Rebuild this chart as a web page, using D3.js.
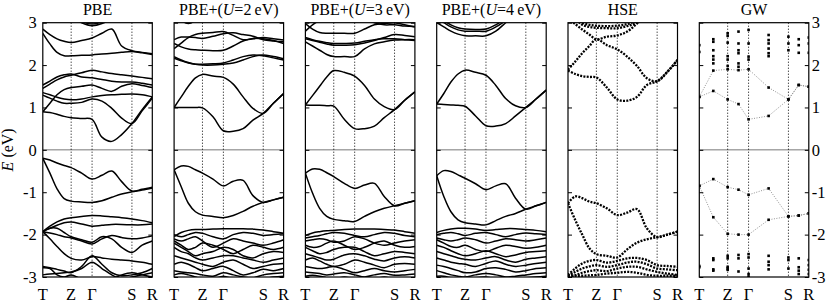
<!DOCTYPE html>
<html>
<head>
<meta charset="utf-8">
<script src="https://cdn.jsdelivr.net/npm/d3@7"></script>
<style>
body{margin:0;background:#fff}
svg{display:block;font-family:"Liberation Serif","Times New Roman",serif}
</style>
</head>
<body>
<script>
// high-symmetry path
const kLabels=["T","Z","Γ","S","R"];
const kPos=[0,0.259,0.45,0.814,1];
const kGrid=[0,0.065,0.13,0.195,0.259,0.355,0.45,0.54,0.63,0.72,0.814,0.907,1];
const kGW=[0,0.128,0.259,0.358,0.45,0.633,0.814,0.908,1];
const titles=["PBE","PBE+(U=2\u2009eV)","PBE+(U=3\u2009eV)","PBE+(U=4\u2009eV)","HSE","GW"];
const yTicks=[-3,-2,-1,0,1,2,3];

// PBE bands (eV)
const pbeBands=[
  [0.9,0.88,0.84,0.79,0.76,0.74,0.72,0.3,0.2,0.36,0.62,0.95,1.25],
  [1.29,1.22,1.15,1.1,1.1,1.12,1.2,1.15,0.98,0.75,0.62,0.92,1.22],
  [1.35,1.3,1.24,1.2,1.18,1.2,1.25,1.28,1.3,1.31,1.32,1.3,1.25],
  [0.9,1.1,1.3,1.42,1.47,1.5,1.53,1.45,1.38,1.5,1.56,1.52,1.47],
  [1.53,1.62,1.72,1.77,1.79,1.72,1.7,1.66,1.62,1.6,1.6,1.57,1.53],
  [1.45,1.55,1.65,1.72,1.76,1.82,1.88,1.84,1.8,1.77,1.74,1.71,1.68],
  [2.75,2.5,2.3,2.22,2.22,2.23,2.24,2.26,2.28,2.3,2.32,2.29,2.25],
  [2.85,2.72,2.62,2.56,2.53,2.58,2.64,2.75,2.85,2.45,2.34,2.3,2.27],
  [3.6,3.5,3.4,3.3,3.15,3.0,2.93,2.98,3.1,3.3,3.4,3.5,3.5],
  [3.7,3.6,3.5,3.4,3.2,3.03,2.97,3.02,3.15,3.35,3.45,3.5,3.5],
  [-0.2,-0.24,-0.31,-0.37,-0.42,-0.55,-0.69,-0.6,-0.5,-0.75,-0.97,-0.93,-0.88],
  [-0.2,-0.55,-0.92,-1.15,-1.21,-1.23,-1.24,-1.2,-1.12,-1.04,-0.99,-0.95,-0.9],
  [-1.93,-1.8,-1.7,-1.63,-1.6,-1.57,-1.55,-1.56,-1.58,-1.6,-1.63,-1.67,-1.72],
  [-1.93,-1.85,-1.78,-1.72,-1.7,-1.75,-1.8,-1.78,-1.76,-1.76,-1.77,-1.77,-1.75],
  [-1.93,-1.96,-2.0,-2.05,-2.08,-2.15,-2.22,-2.1,-2.02,-2.07,-2.1,-2.08,-2.03],
  [-1.93,-1.85,-1.85,-1.95,-2.05,-2.12,-2.18,-2.05,-2.1,-2.3,-2.42,-2.25,-2.15],
  [-1.93,-2.1,-2.28,-2.45,-2.56,-2.6,-2.52,-2.55,-2.58,-2.6,-2.62,-2.65,-2.7],
  [-2.75,-2.78,-2.82,-2.86,-2.9,-2.75,-2.5,-2.7,-2.9,-2.97,-2.95,-2.9,-2.8],
  [-2.95,-2.93,-2.92,-2.9,-2.88,-2.8,-2.65,-2.8,-2.95,-3.05,-3.0,-2.95,-2.9],
  [-2.78,-2.8,-2.95,-3.0,-2.95,-3.05,-3.1,-3.1,-3.05,-2.95,-2.9,-2.95,-3.0]
];

// PBE+U, U=2 eV
const u2Bands=[
  [1.0,1.0,1.0,1.0,0.99,0.78,0.45,0.44,0.5,0.7,0.86,1.1,1.33],
  [1.0,1.25,1.5,1.7,1.78,1.74,1.71,1.55,1.25,0.98,0.86,1.1,1.33],
  [2.16,2.1,2.05,2.02,2.02,2.03,2.05,2.12,2.2,2.24,2.22,2.17,2.12],
  [2.2,2.12,2.06,2.02,2.0,2.0,2.02,2.05,2.12,2.2,2.24,2.2,2.15],
  [2.51,2.43,2.38,2.36,2.35,2.34,2.35,2.45,2.57,2.63,2.62,2.58,2.51],
  [2.39,2.52,2.65,2.72,2.75,2.77,2.79,2.7,2.6,2.62,2.65,2.62,2.59],
  [2.6,2.66,2.66,2.65,2.63,2.68,2.74,2.76,2.72,2.68,2.6,2.57,2.55],
  [3.2,3.05,2.98,3.05,3.2,3.3,3.4,3.4,3.4,3.4,3.4,3.4,3.4],
  [-0.47,-0.38,-0.39,-0.47,-0.55,-0.69,-0.85,-0.74,-0.72,-1.08,-1.24,-1.18,-1.12],
  [-0.47,-0.87,-1.26,-1.46,-1.54,-1.57,-1.6,-1.55,-1.45,-1.33,-1.24,-1.18,-1.12],
  [-2.05,-1.95,-1.9,-1.88,-1.88,-1.87,-1.86,-1.86,-1.86,-1.87,-1.89,-1.93,-1.97],
  [-2.0,-2.05,-2.0,-1.95,-1.97,-2.05,-2.1,-2.0,-1.95,-1.97,-2.02,-2.0,-1.98],
  [-2.1,-2.15,-2.1,-2.05,-2.15,-2.3,-2.2,-2.1,-2.15,-2.2,-2.25,-2.2,-2.12],
  [-2.15,-2.25,-2.35,-2.3,-2.2,-2.25,-2.35,-2.45,-2.35,-2.25,-2.3,-2.35,-2.3],
  [-2.2,-2.3,-2.4,-2.5,-2.45,-2.4,-2.3,-2.35,-2.5,-2.55,-2.45,-2.4,-2.42],
  [-2.3,-2.4,-2.45,-2.55,-2.6,-2.55,-2.5,-2.5,-2.55,-2.6,-2.65,-2.6,-2.55],
  [-2.5,-2.55,-2.6,-2.65,-2.7,-2.75,-2.65,-2.6,-2.7,-2.8,-2.75,-2.7,-2.68],
  [-2.7,-2.65,-2.7,-2.78,-2.85,-2.8,-2.75,-2.85,-2.95,-2.9,-2.82,-2.85,-2.8],
  [-2.85,-2.88,-2.9,-2.92,-2.95,-2.98,-2.9,-2.95,-3.0,-3.02,-2.95,-2.92,-2.9],
  [-2.95,-2.92,-2.95,-3.0,-3.05,-3.05,-2.98,-3.05,-3.1,-3.1,-3.05,-3.0,-2.98]
];

// PBE+U, U=3 eV
const u3Bands=[
  [1.06,1.05,1.05,1.04,1.03,0.72,0.5,0.5,0.56,0.76,0.95,1.17,1.37],
  [1.06,1.28,1.5,1.72,1.87,1.83,1.74,1.52,1.2,1.02,0.95,1.17,1.37],
  [2.55,2.45,2.35,2.25,2.2,2.2,2.2,2.38,2.5,2.55,2.59,2.6,2.6],
  [2.62,2.58,2.54,2.5,2.47,2.47,2.48,2.52,2.58,2.65,2.72,2.7,2.67],
  [2.65,2.6,2.56,2.53,2.51,2.51,2.52,2.56,2.6,2.62,2.62,2.6,2.58],
  [2.98,2.85,2.77,2.75,2.75,2.75,2.75,2.85,2.95,2.98,3.0,2.95,2.9],
  [2.8,2.95,3.05,3.1,3.1,3.15,3.2,3.1,3.0,2.95,2.95,2.92,2.91],
  [-0.55,-0.45,-0.46,-0.54,-0.63,-0.79,-0.91,-0.83,-0.79,-1.1,-1.32,-1.26,-1.2],
  [-0.55,-1.02,-1.38,-1.57,-1.64,-1.67,-1.69,-1.57,-1.46,-1.38,-1.32,-1.26,-1.2],
  [-2.02,-1.96,-1.93,-1.91,-1.9,-1.88,-1.87,-1.87,-1.87,-1.88,-1.89,-1.93,-1.97],
  [-2.08,-2.05,-2.02,-1.98,-1.95,-1.97,-2.02,-2.05,-2.0,-1.95,-1.97,-2.02,-2.05],
  [-2.15,-2.12,-2.1,-2.12,-2.18,-2.15,-2.05,-2.1,-2.2,-2.25,-2.2,-2.15,-2.12],
  [-2.25,-2.3,-2.28,-2.2,-2.15,-2.25,-2.35,-2.3,-2.2,-2.15,-2.25,-2.3,-2.28],
  [-2.3,-2.38,-2.45,-2.42,-2.35,-2.3,-2.3,-2.4,-2.5,-2.45,-2.4,-2.42,-2.45],
  [-2.45,-2.5,-2.55,-2.6,-2.58,-2.48,-2.45,-2.5,-2.58,-2.62,-2.55,-2.52,-2.55],
  [-2.6,-2.55,-2.62,-2.7,-2.75,-2.7,-2.6,-2.65,-2.72,-2.78,-2.7,-2.68,-2.7],
  [-2.75,-2.78,-2.8,-2.78,-2.75,-2.82,-2.9,-2.85,-2.8,-2.85,-2.88,-2.85,-2.82],
  [-2.88,-2.9,-2.92,-2.95,-2.93,-2.9,-2.95,-3.0,-2.95,-2.92,-2.96,-2.95,-2.93],
  [-2.98,-2.96,-2.98,-3.02,-3.05,-3.0,-3.05,-3.08,-3.05,-3.0,-3.05,-3.05,-3.02]
];

// PBE+U, U=4 eV
const u4Bands=[
  [1.08,1.07,1.06,1.05,1.03,0.8,0.57,0.56,0.62,0.8,1.0,1.2,1.41],
  [1.08,1.33,1.6,1.79,1.88,1.83,1.76,1.52,1.21,1.04,1.0,1.2,1.41],
  [3.0,2.9,2.8,2.73,2.69,2.69,2.69,2.8,3.0,3.2,3.3,3.3,3.3],
  [3.1,3.0,2.9,2.83,2.8,2.8,2.8,2.9,3.05,3.2,3.3,3.3,3.3],
  [3.2,3.05,2.95,2.88,2.85,2.84,2.85,2.95,3.1,3.25,3.3,3.3,3.3],
  [-0.61,-0.49,-0.51,-0.59,-0.67,-0.8,-0.94,-0.85,-0.8,-1.14,-1.4,-1.32,-1.24],
  [-0.61,-1.1,-1.46,-1.65,-1.72,-1.75,-1.77,-1.67,-1.57,-1.5,-1.4,-1.32,-1.24],
  [-1.95,-1.9,-1.87,-1.85,-1.85,-1.87,-1.9,-1.88,-1.86,-1.86,-1.88,-1.9,-1.93],
  [-2.0,-1.97,-1.95,-1.98,-2.02,-1.97,-1.95,-2.0,-2.05,-2.0,-1.96,-1.98,-2.0],
  [-2.08,-2.12,-2.15,-2.12,-2.08,-2.12,-2.2,-2.15,-2.1,-2.12,-2.15,-2.12,-2.08],
  [-2.12,-2.2,-2.28,-2.3,-2.25,-2.35,-2.4,-2.32,-2.25,-2.28,-2.32,-2.3,-2.25],
  [-2.25,-2.3,-2.38,-2.45,-2.5,-2.45,-2.38,-2.45,-2.52,-2.48,-2.42,-2.4,-2.38],
  [-2.4,-2.45,-2.5,-2.55,-2.58,-2.6,-2.55,-2.52,-2.6,-2.65,-2.58,-2.55,-2.52],
  [-2.55,-2.6,-2.65,-2.68,-2.7,-2.75,-2.68,-2.62,-2.7,-2.75,-2.72,-2.68,-2.65],
  [-2.72,-2.75,-2.8,-2.85,-2.9,-2.88,-2.8,-2.78,-2.82,-2.88,-2.85,-2.8,-2.78],
  [-2.85,-2.9,-2.95,-2.98,-3.0,-2.95,-2.92,-2.95,-3.0,-2.98,-2.95,-2.92,-2.9],
  [-2.98,-2.98,-3.02,-3.05,-3.08,-3.02,-3.0,-3.05,-3.08,-3.05,-3.02,-3.0,-2.98]
];

// HSE bands
const hseBands=[
  [1.87,1.79,1.74,1.72,1.71,1.47,1.19,1.16,1.25,1.53,1.62,1.84,2.12],
  [1.89,2.08,2.28,2.45,2.61,2.47,2.37,2.2,1.98,1.69,1.62,1.84,2.12],
  [3.1,2.97,2.84,2.72,2.61,2.67,2.7,2.79,2.98,3.2,3.3,3.3,3.3],
  [3.2,3.1,2.95,2.9,2.88,2.87,2.87,2.92,3.0,3.2,3.3,3.3,3.3],
  [3.2,3.1,3.0,2.95,2.93,2.92,2.93,2.97,3.05,3.2,3.3,3.3,3.3],
  [-1.26,-1.1,-1.14,-1.22,-1.26,-1.38,-1.54,-1.48,-1.4,-1.85,-2.06,-2.0,-1.93],
  [-1.26,-1.65,-2.0,-2.32,-2.46,-2.5,-2.54,-2.35,-2.19,-2.11,-2.06,-2.0,-1.93],
  [-2.95,-2.8,-2.68,-2.62,-2.6,-2.66,-2.62,-2.56,-2.55,-2.6,-2.72,-2.74,-2.76],
  [-2.98,-2.88,-2.8,-2.75,-2.72,-2.76,-2.72,-2.66,-2.64,-2.7,-2.8,-2.82,-2.84],
  [-3.0,-2.96,-2.9,-2.86,-2.84,-2.86,-2.8,-2.76,-2.76,-2.82,-2.88,-2.92,-2.95],
  [-2.97,-2.97,-2.97,-2.96,-2.95,-2.92,-2.9,-2.88,-2.9,-2.95,-2.97,-2.97,-2.97]
];

// GW: quasiparticle energies joined by guide lines
const gwLines=[
  [1.25,1.39,1.19,1.08,0.72,0.8,1.19,1.53,1.49],
  [1.25,1.87,1.9,1.88,1.9,1.47,1.19,1.53,1.49],
  [-0.85,-0.69,-0.88,-0.94,-1.06,-0.91,-1.57,-1.55,-1.5],
  [-0.85,-1.59,-1.98,-2.0,-2.0,-1.65,-1.57,-1.55,-1.5]
];
// GW: remaining levels, one list per k point
const gwLevels=[
  [2.47,2.31,-2.74,-2.77],
  [2.61,2.55,2.35,2.21,2.13,2.04,-2.56,-2.6,-2.82,-2.85],
  [2.75,2.69,2.53,2.21,2.13,1.98,-2.5,-2.56,-2.76,-2.8,-2.83],
  [2.79,2.51,2.35,2.28,2.04,1.96,-2.48,-2.56,-2.87],
  [2.83,2.51,2.2,2.13,-2.46,-2.54,-2.8,-2.93,-2.99],
  [2.71,2.59,2.51,2.39,2.28,2.21,-2.5,-2.64,-2.72,-2.82],
  [2.67,2.51,2.35,-2.54,-2.6,-2.8],
  [2.61,2.47,2.29,-2.56,-2.77,-2.85,-2.93],
  [2.65,2.51,2.29,-2.6,-2.72,-2.83,-2.93]
];

const W=830,H=303;
const left0=42.8,step=131.3,pw=109.5,py0=22.7,ph=254.3;

const svg=d3.select("body").append("svg")
  .attr("width",W).attr("height",H);

const x=d3.scaleLinear().domain([0,1]).range([0,pw]);
const y=d3.scaleLinear().domain([-3,3]).range([ph,0]);

const bandLine=d3.line()
  .x((d,i)=>x(kGrid[i]))
  .y(d=>y(d))
  .curve(d3.curveCatmullRom.alpha(0.5));
const gwLine=d3.line()
  .x((d,i)=>x(kGW[i]))
  .y(d=>y(d));

const panels=[pbeBands,u2Bands,u3Bands,u4Bands,hseBands,null];

panels.forEach((bands,i)=>{
  const g=svg.append("g").attr("transform","translate("+(left0+i*step)+","+py0+")");

  g.append("clipPath").attr("id","clip"+i)
    .append("rect").attr("width",pw).attr("height",ph);

  // zero line
  g.append("line")
    .attr("x1",0).attr("x2",pw).attr("y1",y(0)).attr("y2",y(0))
    .style("stroke","#777").style("stroke-width",1);

  // high symmetry points
  g.selectAll(".ksym").data(kPos.slice(1,4)).enter().append("line")
    .attr("x1",d=>x(d)).attr("x2",d=>x(d)).attr("y1",0).attr("y2",ph)
    .style("stroke","#000").style("stroke-width",1)
    .style("stroke-dasharray","1,2");

  const plot=g.append("g").attr("clip-path","url(#clip"+i+")");

  if(bands){
    plot.selectAll("path").data(bands).enter().append("path")
      .attr("d",bandLine)
      .style("fill","none")
      .style("stroke","#000")
      .style("stroke-width",i==4?2.3:1.5)
      .style("stroke-dasharray",i==4?"2,1.3":null);
  } else {
    plot.selectAll("path").data(gwLines).enter().append("path")
      .attr("d",gwLine)
      .style("fill","none")
      .style("stroke","#777")
      .style("stroke-width",0.8)
      .style("stroke-dasharray","1,1.5");
    const pts=[];
    gwLines.forEach(b=>b.forEach((e,j)=>pts.push([kGW[j],e])));
    gwLevels.forEach((lv,j)=>lv.forEach(e=>pts.push([kGW[j],e])));
    plot.selectAll("rect").data(pts).enter().append("rect")
      .attr("x",d=>x(d[0])-1.3).attr("y",d=>y(d[1])-1.3)
      .attr("width",2.6).attr("height",2.6)
      .style("fill","#000");
  }

  // inner ticks on both sides
  g.append("g").call(d3.axisRight(y).tickValues(yTicks).tickSize(4).tickFormat(""))
    .call(a=>a.select(".domain").remove());
  g.append("g").attr("transform","translate("+pw+",0)")
    .call(d3.axisLeft(y).tickValues(yTicks).tickSize(4).tickFormat(""))
    .call(a=>a.select(".domain").remove());

  // frame
  g.append("rect").attr("width",pw).attr("height",ph)
    .style("fill","none").style("stroke","#000").style("stroke-width",1.2);

  // title
  const t=g.append("text").attr("x",pw/2).attr("y",-7.5)
    .attr("text-anchor","middle").style("font-size","16px");
  const parts=titles[i].split("U");
  t.append("tspan").text(parts[0]);
  if(parts.length>1){
    t.append("tspan").style("font-style","italic").text("U");
    t.append("tspan").text(parts[1]);
  }

  // k labels
  g.selectAll(".klab").data(kLabels).enter().append("text")
    .attr("x",(d,j)=>x(kPos[j])).attr("y",ph+23)
    .attr("text-anchor","middle").style("font-size","16.5px")
    .text(d=>d);

  // energy labels on outer panels
  if(i==0){
    g.append("g").attr("class","ylab")
      .call(d3.axisLeft(y).tickValues(yTicks).tickSize(0).tickPadding(6).tickFormat(d=>String(d)))
      .call(a=>a.select(".domain").remove());
  }
  if(i==5){
    g.append("g").attr("class","ylab").attr("transform","translate("+pw+",0)")
      .call(d3.axisRight(y).tickValues(yTicks).tickSize(0).tickPadding(3).tickFormat(d=>String(d)))
      .call(a=>a.select(".domain").remove());
  }
});

svg.selectAll(".ylab text")
  .style("font-size","16.5px")
  .style("font-family","'Liberation Serif','Times New Roman',serif");

// axis title
const yt=svg.append("text")
  .attr("transform","translate(13,"+(py0+ph/2)+") rotate(-90)")
  .attr("text-anchor","middle").style("font-size","16px");
yt.append("tspan").style("font-style","italic").text("E");
yt.append("tspan").text(" (eV)");
</script>
</body>
</html>
